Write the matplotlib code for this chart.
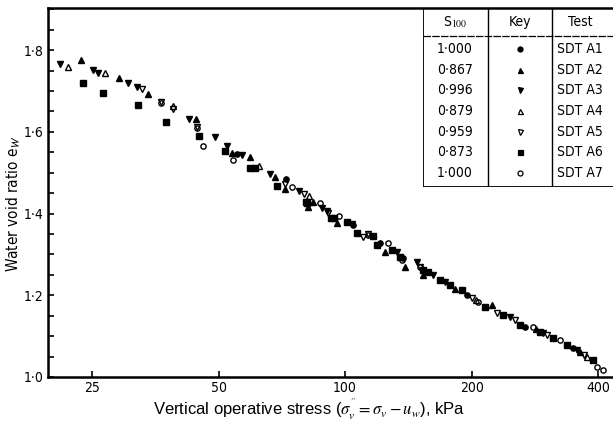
import numpy as np
import matplotlib
matplotlib.use("Agg")
import matplotlib.pyplot as plt
from matplotlib.ticker import FixedLocator, MultipleLocator, NullLocator

# Serie SDT A1..A7: tensao efetiva vertical (kPa) e indice de vazios e_w
a1_x = [55.3, 72.4, 104.4, 121.1, 137.3, 195.1, 268.0, 348.7]
a1_y = [1.545, 1.484, 1.372, 1.328, 1.291, 1.200, 1.122, 1.071]

a2_x = [23.5, 29.0, 34.0, 44.2, 53.8, 59.4, 68.1, 72.0, 83.9, 81.7, 95.7,
        124.5, 138.9, 153.3, 182.6, 223.8, 285.0, 362.3]
a2_y = [1.775, 1.731, 1.692, 1.631, 1.548, 1.538, 1.489, 1.460, 1.428, 1.416, 1.377,
        1.306, 1.269, 1.249, 1.215, 1.176, 1.118, 1.061]

a3_x = [20.98, 25.1, 25.8, 30.4, 32.0, 42.5, 49.0, 52.4, 56.9, 66.3, 77.7, 88.1,
        90.6, 104.0, 132.9, 148.3, 161.9, 172.9, 247.0, 296.0, 356.0]
a3_y = [1.765, 1.751, 1.743, 1.719, 1.709, 1.631, 1.587, 1.565, 1.543, 1.496, 1.455, 1.413,
        1.406, 1.375, 1.306, 1.281, 1.249, 1.232, 1.147, 1.108, 1.066]

a4_x = [21.9, 26.8, 39.0, 62.4, 82.1, 205.0, 376.4]
a4_y = [1.758, 1.743, 1.662, 1.516, 1.443, 1.189, 1.049]

a5_x = [32.9, 36.5, 39.0, 44.4, 72.0, 79.9, 91.1, 110.3, 113.4, 150.8, 200.5,
        229.9, 253.9, 302.3, 370.0]
a5_y = [1.704, 1.672, 1.655, 1.612, 1.472, 1.447, 1.401, 1.342, 1.349, 1.269, 1.193,
        1.156, 1.139, 1.103, 1.055]

a6_x = [23.8, 26.6, 32.2, 37.5, 44.9, 51.8, 59.4, 61.1, 68.9, 80.8, 81.2, 92.6, 94.1,
        101.1, 106.8, 116.5, 119.1, 129.3, 135.1, 153.3, 157.5, 168.2, 177.7, 189.8,
        215.3, 237.6, 260.8, 290.9, 312.3, 337.4, 389.0]
a6_y = [1.719, 1.694, 1.665, 1.623, 1.589, 1.553, 1.511, 1.511, 1.467, 1.428, 1.425, 1.389, 1.389,
        1.379, 1.352, 1.345, 1.323, 1.311, 1.293, 1.262, 1.257, 1.237, 1.225, 1.213,
        1.171, 1.152, 1.127, 1.110, 1.095, 1.078, 1.042]

a7_x = [36.5, 44.4, 45.9, 54.1, 74.8, 87.2, 96.8, 113.4, 126.6, 136.6, 150.8,
        207.2, 280.1, 324.5, 397.6, 410.9]
a7_y = [1.670, 1.609, 1.565, 1.531, 1.465, 1.425, 1.394, 1.347, 1.328, 1.286, 1.269,
        1.183, 1.122, 1.090, 1.024, 1.017]

# Tabela da legenda
s100 = ["1·000", "0·867", "0·996", "0·879", "0·959", "0·873", "1·000"]
tests = ["SDT A1", "SDT A2", "SDT A3", "SDT A4", "SDT A5", "SDT A6", "SDT A7"]

x_ticks = [25, 50, 100, 200, 400]
y_ticks = [1.0, 1.2, 1.4, 1.6, 1.8]

series = [
    (a1_x, a1_y, "o", "k"),
    (a2_x, a2_y, "^", "k"),
    (a3_x, a3_y, "v", "k"),
    (a4_x, a4_y, "^", "none"),
    (a5_x, a5_y, "v", "none"),
    (a6_x, a6_y, "s", "k"),
    (a7_x, a7_y, "o", "none"),
]

scan = dict(family="DejaVu Sans", stretch="condensed")
plt.rcParams["mathtext.fontset"] = "stix"

fig = plt.figure(figsize=(6.13, 4.21), dpi=100)
ax = fig.add_axes([48 / 613, 1 - 377 / 421, 1 - 48 / 613, 369 / 421])

for xs, ys, mk, fc in series:
    ax.plot(xs, ys, linestyle="none", marker=mk, markersize=3.8,
            markerfacecolor=fc, markeredgecolor="k", markeredgewidth=1.0)

ax.set_xscale("log")
ax.set_xlim(19.64, 434)
ax.set_ylim(1.0, 1.903)

ax.xaxis.set_major_locator(FixedLocator(x_ticks))
ax.xaxis.set_minor_locator(NullLocator())
ax.set_xticklabels([str(t) for t in x_ticks], fontsize=10, **scan)
ax.yaxis.set_major_locator(FixedLocator(y_ticks))
ax.yaxis.set_minor_locator(MultipleLocator(0.05))
ax.set_yticklabels([f"{t:.1f}".replace(".", "·") for t in y_ticks], fontsize=10, **scan)
ax.tick_params(which="both", direction="in", length=4, width=1.2, pad=3)
ax.tick_params(axis="x", pad=3)

for side in ["left", "bottom", "top"]:
    ax.spines[side].set_linewidth(1.8)
ax.spines["right"].set_visible(False)

ax.set_ylabel("Water void ratio e$_\\mathsf{W}$", fontsize=11, **scan)
ax.yaxis.set_label_coords(-0.044, 0.47)

fig.text(309 / 613, 1 - 409 / 421,
         "Vertical operative stress ($\\sigma_v^{''} = \\sigma_v - u_w$), kPa",
         ha="center", va="center", family="Liberation Sans", fontsize=12)

# Tabela no canto superior direito
tab = fig.add_axes([423 / 613, 1 - 187 / 421, 190 / 613, 179 / 421])
tab.set_xlim(423, 613)
tab.set_ylim(187, 8)
tab.axis("off")
tab.plot([423, 423, 613], [8, 187, 187], color="k", lw=1.3)
tab.plot([488, 488], [8, 187], color="k", lw=1.0)
tab.plot([552, 552], [8, 187], color="k", lw=1.0)
tab.plot([423, 613], [36, 36], color="k", lw=0.9, linestyle=(0, (6, 1)))
tab.text(455, 22, "S$_{100}$", ha="center", va="center", fontsize=10, **scan)
tab.text(520, 22, "Key", ha="center", va="center", fontsize=10, **scan)
tab.text(580, 22, "Test", ha="center", va="center", fontsize=10, **scan)
row_y = np.linspace(49, 173, len(tests))
for i, (s, t) in enumerate(zip(s100, tests)):
    tab.text(455, row_y[i], s, ha="center", va="center", fontsize=10, **scan)
    tab.text(580, row_y[i], t, ha="center", va="center", fontsize=10, **scan)
    mk, fc = series[i][2], series[i][3]
    tab.plot([520], [row_y[i]], marker=mk, markersize=3.6, markerfacecolor=fc,
             markeredgecolor="k", markeredgewidth=0.9, linestyle="none")

fig.savefig("out.png", dpi=100)
